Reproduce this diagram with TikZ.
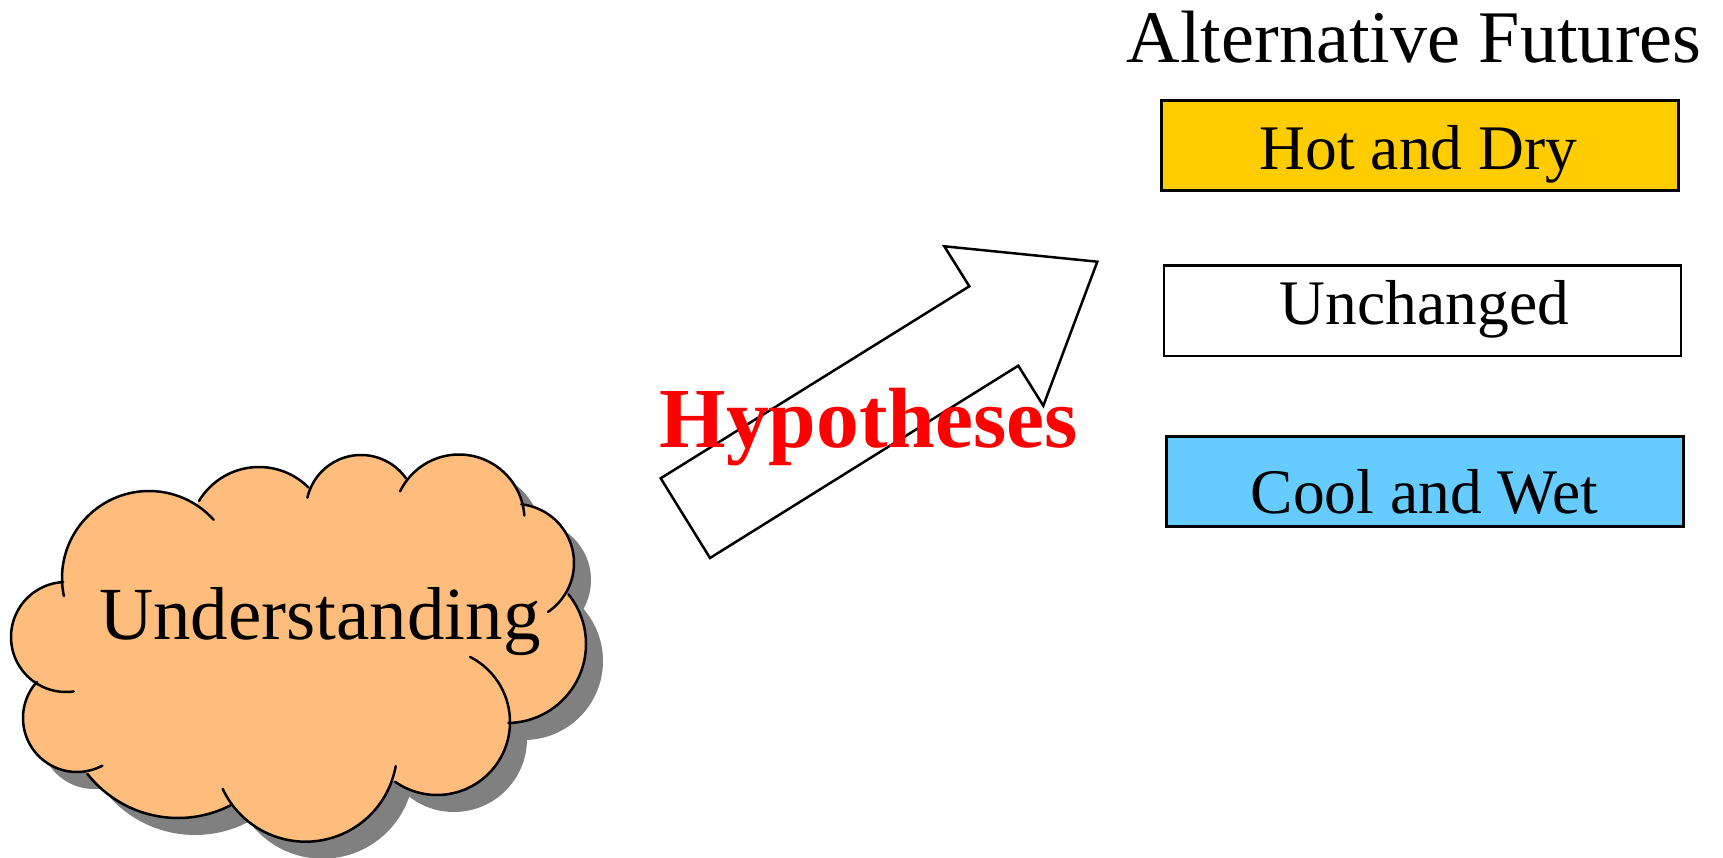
\documentclass[tikz,border=0pt]{standalone}
\usepackage{fontspec}
\setmainfont{Liberation Serif}
\definecolor{cloudfill}{HTML}{FFBD7D}
\definecolor{hotfill}{HTML}{FFCC00}
\definecolor{coolfill}{HTML}{66CCFF}
\definecolor{shadowgray}{HTML}{808080}
\tikzset{
  line/.style={line width=2.5pt,draw=black},
  futurebox/.style={line,rectangle,inner sep=0pt,minimum width=517pt,minimum height=90pt,anchor=north west},
  lbl/.style={inner sep=0pt,anchor=base,text=black}
}
% each lobe: centre x, centre y, radius, first angle, last angle (y axis points down)
\newcommand\alllobes[1]{%
  #1{66}{637}{55}{82}{267}%
  #1{149}{578}{87}{168}{318}%
  #1{259}{537}{70}{211}{315}%
  #1{361}{510}{55}{193}{325}%
  #1{459}{520}{65.5}{206}{356}%
  #1{515}{563}{59}{276}{416}%
  #1{507}{644}{79}{321}{449}%
  #1{437}{722}{73}{297}{485}%
  #1{305.6}{750.2}{91.5}{10}{155}%
  #1{178}{703}{115}{63}{142}%
  #1{77}{718}{54}{62}{222}%
}
\newcommand\lobefill[5]{\fill (#1,#2) circle[radius=#3pt];}
\newcommand\lobeline[5]{\draw[line,line cap=round] plot[domain=#4:#5,samples=60,variable=\t] ({#1+#3*cos(\t)},{#2+#3*sin(\t)});}
\newcommand\cloudbody{%
  \alllobes{\lobefill}
  \fill (66,637)--(149,578)--(259,537)--(361,510)--(459,520)--(515,563)--(507,644)--(437,722)--(305.6,750.2)--(178,703)--(77,718)--cycle;
}
\begin{document}
\begin{tikzpicture}[x=1pt,y=-1pt]
\useasboundingbox (0,0) rectangle (1723,858);
\clip (0,0) rectangle (1723,858);
% cloud
\begin{scope}[shift={(17pt,-17pt)},shadowgray]
  \cloudbody
\end{scope}
\begin{scope}[cloudfill]
  \cloudbody
\end{scope}
\alllobes{\lobeline}
% block arrow
\draw[line,fill=white,line join=miter] (660.7,478.3)--(969.3,286.3)--(944.3,246.3)--(1097.3,261.7)--(1043.3,405.7)--(1018.3,365.7)--(710,558)--cycle;
% boxes
\node[futurebox,fill=hotfill] (hot) at (1160,99.5) {};
\node[futurebox,fill=white] (same) at (1162.5,264.5) {};
\node[futurebox,fill=coolfill] (cool) at (1165,435) {};
% text
\node[lbl,font=\fontsize{74.2pt}{80pt}\selectfont] (title) at (1414,63) {Alternative Futures};
\node[lbl,font=\fontsize{63.5pt}{70pt}\selectfont] (hottext) at (1418.5,170) {Hot and Dry};
\node[lbl,font=\fontsize{63.5pt}{70pt}\selectfont] (sametext) at (1424.5,324) {Unchanged};
\node[lbl,font=\fontsize{63.5pt}{70pt}\selectfont] (cooltext) at (1424.5,513) {Cool and Wet};
\node[lbl,font=\fontsize{75pt}{80pt}\selectfont] (understanding) at (320,639) {Understanding};
\node[lbl,text=red,font=\fontsize{85.5pt}{90pt}\selectfont\bfseries] (hypotheses) at (868.5,447) {Hypotheses};
\end{tikzpicture}
\end{document}
